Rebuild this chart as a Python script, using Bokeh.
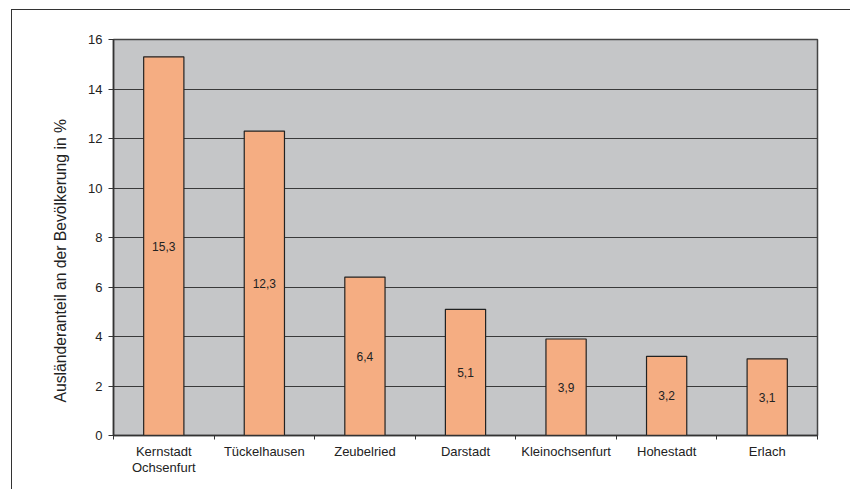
from bokeh.plotting import figure
from bokeh.models import (ColumnDataSource, FixedTicker, LabelSet, Range1d, Title,
                          InlineStyleSheet)
from bokeh.core.properties import value
from bokeh.embed import file_html
from bokeh.resources import INLINE

# Foreign-resident share per district (percent)
districts = ["Kernstadt\nOchsenfurt", "Tückelhausen", "Zeubelried", "Darstadt",
             "Kleinochsenfurt", "Hohestadt", "Erlach"]
shares = [15.3, 12.3, 6.4, 5.1, 3.9, 3.2, 3.1]
y_ticks = [0, 2, 4, 6, 8, 10, 12, 14, 16]
y_title = "Ausländeranteil an der Bevölkerung in %"

FONT = "Liberation Sans"
TEXT = "#222222"

xpos = [i + 0.5 for i in range(len(districts))]
src = ColumnDataSource(dict(
    x=xpos,
    top=shares,
    mid=[v / 2 for v in shares],
    label=[f"{v:.1f}".replace(".", ",") for v in shares],
))

p = figure(width=850, height=489, output_backend="svg", toolbar_location=None,
           x_range=Range1d(0, len(districts)), y_range=Range1d(0, 16),
           min_border_left=113, min_border_right=33, min_border_top=39,
           min_border_bottom=54)
p.background_fill_color = "#C5C6C8"
p.border_fill_color = "white"
p.outline_line_color = "#444444"
p.outline_line_width = 1.5

p.vbar(x="x", top="top", width=0.4, source=src, fill_color="#F5AD82",
       line_color="#222222", line_width=1.2)

p.add_layout(LabelSet(x="x", y="mid", text="label", source=src,
                      text_align="center", text_baseline="middle",
                      text_font=value(FONT), text_font_size="12px",
                      text_color=TEXT))

# grid
p.xgrid.visible = False
p.ygrid.ticker = FixedTicker(ticks=y_ticks)
p.ygrid.grid_line_color = "#3a3a3a"
p.ygrid.grid_line_width = 1

# y axis
p.yaxis.ticker = FixedTicker(ticks=y_ticks)
p.yaxis.major_tick_in = 0
p.yaxis.major_tick_out = 5
p.yaxis.minor_tick_line_color = None
p.yaxis.major_label_standoff = 6
p.yaxis.major_label_text_font = FONT
p.yaxis.major_label_text_font_size = "13px"
p.yaxis.major_label_text_color = TEXT
p.yaxis.axis_line_color = "#333333"
p.yaxis.axis_line_width = 1.5
p.yaxis.major_tick_line_color = "#333333"

# y axis title, starting a little above the frame bottom
p.add_layout(Title(text=y_title, align="left", offset=33, standoff=34,
                   text_font=FONT, text_font_size="15.7px",
                   text_font_style="normal", text_color=TEXT), "left")

# x axis: labels at bar centres, tick marks at category boundaries
p.xaxis.ticker = FixedTicker(ticks=xpos, minor_ticks=list(range(len(districts) + 1)))
p.xaxis.major_label_overrides = {x: d for x, d in zip(xpos, districts)}
p.xaxis.major_tick_in = 0
p.xaxis.major_tick_out = 0
p.xaxis.minor_tick_in = 0
p.xaxis.minor_tick_out = 4
p.xaxis.minor_tick_line_color = "#333333"
p.xaxis.major_label_standoff = 4
p.xaxis.major_label_text_font = FONT
p.xaxis.major_label_text_font_size = "13px"
p.xaxis.major_label_text_line_height = 1.1
p.xaxis.major_label_text_color = TEXT
p.xaxis.axis_line_color = "#333333"
p.xaxis.axis_line_width = 1.5

# outer chart frame drawn on the page around the canvas
p.stylesheets = [InlineStyleSheet(css="""
:host { position: relative; }
:host::after {
  content: ""; position: absolute; left: 11px; top: 9px; right: 0; bottom: 0;
  border-left: 1.5px solid #333; border-top: 1.5px solid #333;
  pointer-events: none;
}
""")]

open("out.html", "w").write(file_html(p, INLINE))
